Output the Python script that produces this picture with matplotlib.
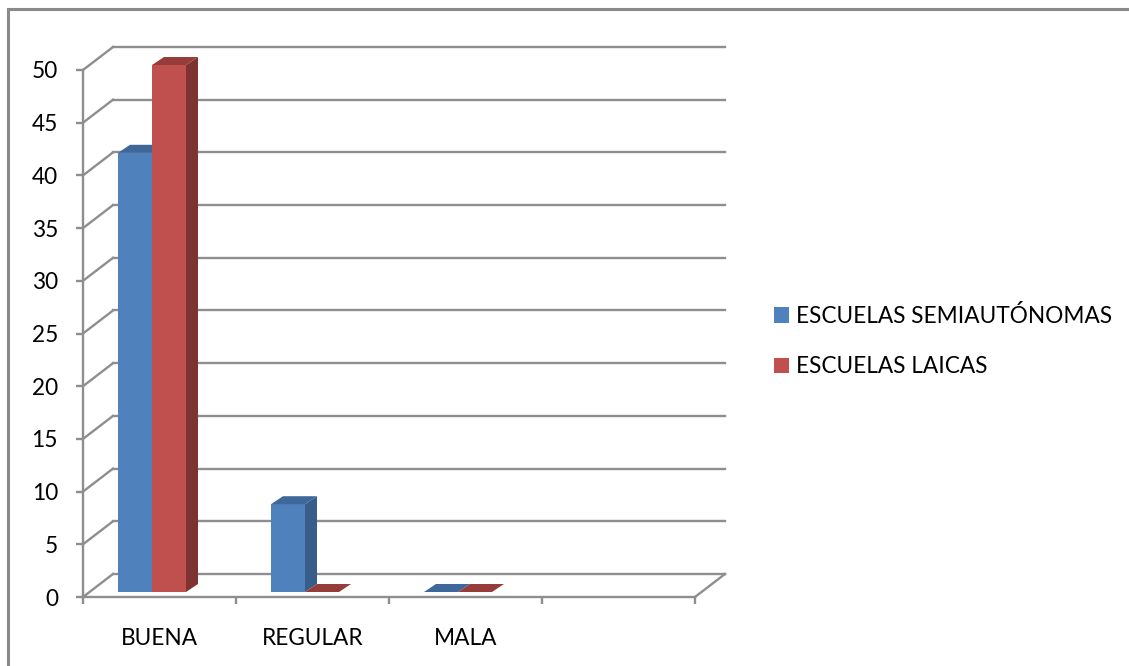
import numpy as np
import matplotlib
matplotlib.use('Agg')
import matplotlib.pyplot as plt
from matplotlib.patches import Polygon
from matplotlib.lines import Line2D

plt.rcParams['font.family'] = ['Lato', 'DejaVu Sans']

# data
categories = ['BUENA', 'REGULAR', 'MALA', '']
semiautonomas = [41.67, 8.33, 0]
laicas = [50, 0, 0]
series_names = ['ESCUELAS SEMIAUTÓNOMAS', 'ESCUELAS LAICAS']
yticks = np.arange(0, 55, 5)

# colours (front, side, top)
blue = ('#4f81bd', '#385d8a', '#3e679a')
red = ('#c0504d', '#7f3331', '#963d3a')
grid_col = '#8e8e8e'

W, H = 1129, 666
fig = plt.figure(figsize=(W / 100, H / 100), dpi=100)

# front plane of the pseudo 3d box, in pixels
x_left, x_right = 83, 695
y_zero, y_top = 597, 70
ax = fig.add_axes([x_left / W, 1 - y_zero / H, (x_right - x_left) / W, (y_zero - y_top) / H])
n = len(categories)
ax.set_xlim(0, n)
ax.set_ylim(0, 50)

px_x = n / (x_right - x_left)   # data units per pixel
px_y = 50 / (y_zero - y_top)

# depth of the box and of the bars
dX, dY = 30 * px_x, 23 * px_y
bdx, bdy = 12 * px_x, 8 * px_y
base = 5 * px_y
bar_w = 34 * px_x
bar_off = 35 * px_x

# back wall grid + side wall diagonals
for v in yticks:
    ax.add_line(Line2D([dX, n + dX], [v + dY, v + dY], color=grid_col,
                       lw=1.7, clip_on=False, zorder=1))
    ax.add_line(Line2D([0, dX], [v, v + dY], color=grid_col, lw=1.7, clip_on=False, zorder=1))
# floor right edge
ax.add_line(Line2D([n, n + dX], [0, dY], color=grid_col, lw=1.7, clip_on=False, zorder=1))


def draw_series(vals, k, cols, label):
    xs = np.arange(len(vals)) + bar_off + k * bar_w
    ax.bar(xs, vals, width=bar_w, bottom=base, align='edge', color=cols[0],
           label=label, zorder=3 + k, clip_on=False)
    for x0, v in zip(xs, vals):
        x1 = x0 + bar_w
        y0, y1 = base, base + v
        if v > 0:
            ax.add_patch(Polygon([(x1, y0), (x1 + bdx, y0 + bdy), (x1 + bdx, y1 + bdy), (x1, y1)],
                                 closed=True, color=cols[1], lw=0, zorder=3 + k, clip_on=False))
        ax.add_patch(Polygon([(x0, y1), (x0 + bdx, y1 + bdy), (x1 + bdx, y1 + bdy), (x1, y1)],
                             closed=True, color=cols[2], lw=0, zorder=3 + k, clip_on=False))


draw_series(semiautonomas, 0, blue, series_names[0])
draw_series(laicas, 1, red, series_names[1])

# axes styling
for s in ['top', 'right']:
    ax.spines[s].set_visible(False)
for s in ['left', 'bottom']:
    ax.spines[s].set_color(grid_col)
    ax.spines[s].set_linewidth(1.7)
    ax.spines[s].set_zorder(2)
ax.set_yticks(yticks)
ax.set_xticks(np.arange(n + 1))
ax.set_xticklabels([])
ax.set_xticks(np.arange(n) + 0.5, minor=True)
ax.set_xticklabels(categories, minor=True)
ax.tick_params(axis='x', which='minor', length=0, pad=22, labelsize=16.3)
ax.tick_params(axis='x', which='major', length=5, width=1.7, color=grid_col)
ax.tick_params(axis='y', length=5, width=1.7, color=grid_col, pad=13, labelsize=16.3)
ax.patch.set_visible(False)

# legend
fig.legend(loc='upper left', bbox_to_anchor=(774 / W, 1 - 305 / H), frameon=False,
           fontsize=16.3, handlelength=0.65, handleheight=0.65, handletextpad=0.3,
           labelspacing=1.3, borderaxespad=0, borderpad=0)

# outer frame (top and left only visible)
fig.add_artist(Line2D([8 / W, 8 / W], [0, 1 - 9 / H], color='#8a8a8a', lw=2.2))
fig.add_artist(Line2D([8 / W, 1], [1 - 9 / H, 1 - 9 / H], color='#8a8a8a', lw=2.2))

fig.savefig('out.png', dpi=100)
